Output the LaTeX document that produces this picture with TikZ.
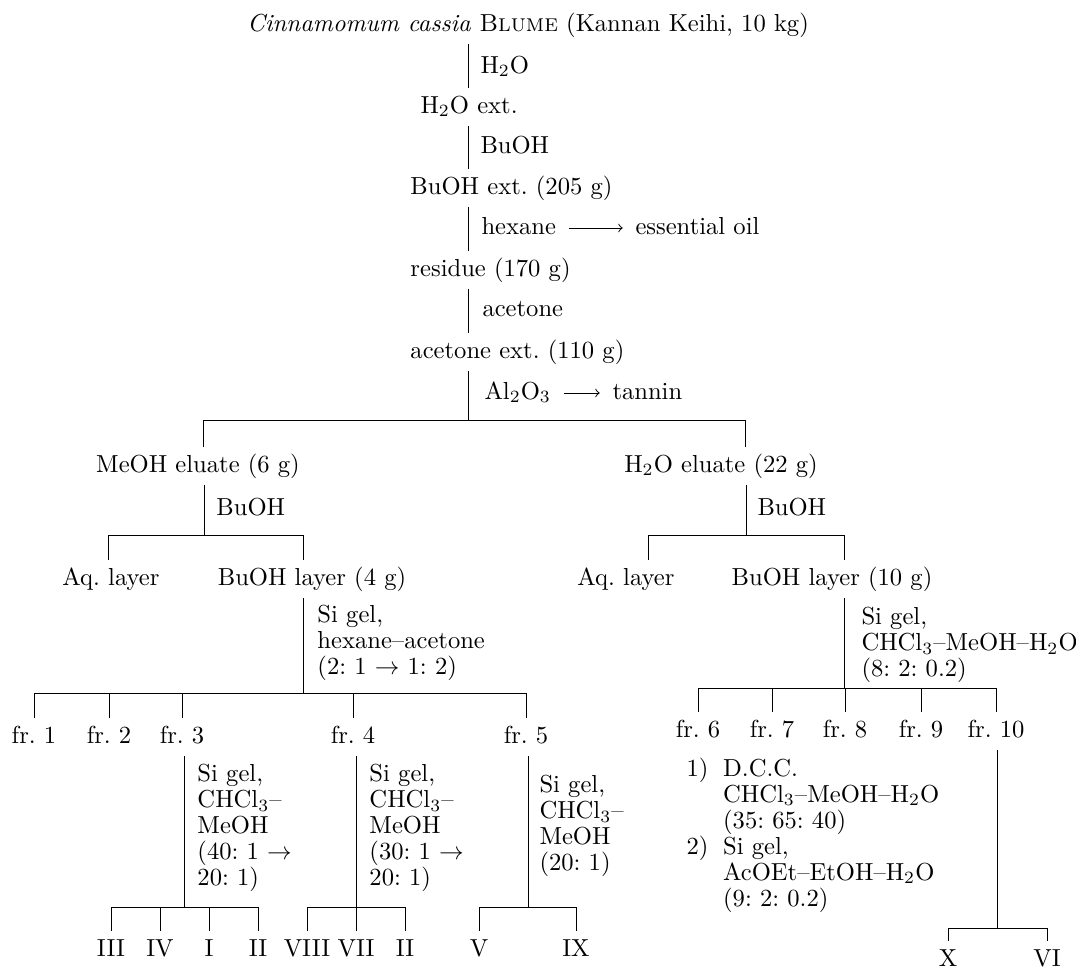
\documentclass[tikz,border=0pt]{standalone}
\usepackage{amsmath,amssymb}
\usepackage{tikz}

\tikzset{
 lbl/.style={inner xsep=0pt, inner ysep=3pt, text height=7pt, text depth=2pt},
 cond/.style={anchor=west, inner sep=0pt, align=left, font=\fontsize{10}{10.5}\selectfont},
}

\begin{document}
\begin{tikzpicture}[x=0.4065pt, y=-0.4065pt]
 \useasboundingbox (0,0) rectangle (1076,969);

 % main chain
 \node[lbl,anchor=west] (plant) at (247,25) {\textit{Cinnamomum cassia} \textsc{Blume} (Kannan Keihi, 10 kg)};
 \node[lbl,anchor=west] (wext) at (420,107) {H$_2$O ext.};
 \node[lbl,anchor=west] (bext) at (410,188) {BuOH ext.\ (205 g)};
 \node[lbl,anchor=west] (resid) at (410,270) {residue (170 g)};
 \node[lbl,anchor=west] (aext) at (410,352) {acetone ext.\ (110 g)};
 \coordinate (c0) at (468,0);
 \draw (plant.south -| c0) -- (wext.north -| c0);
 \draw (wext.south -| c0) -- (bext.north -| c0);
 \draw (bext.south -| c0) -- (resid.north -| c0);
 \draw (resid.south -| c0) -- (aext.north -| c0);
 \node[lbl,anchor=west] (rw) at (480,67) {H$_2$O};
 \node[lbl,anchor=west] (rb) at (480,147) {BuOH};
 \node[lbl,anchor=west] (rh) at (481,228) {hexane};
 \node[lbl,anchor=west] (oil) at (635,228) {essential oil};
 \draw[->] ([xshift=5pt]rh.east) -- ([xshift=-5pt]oil.west);
 \node[lbl,anchor=west] (rac) at (482,310) {acetone};
 \node[lbl,anchor=west] (ra) at (484,393) {Al$_2$O$_3$};
 \node[lbl,anchor=west] (tan) at (612,393) {tannin};
 \draw[->] ([xshift=5pt]ra.east) -- ([xshift=-5pt]tan.west);

 % alumina column
 \coordinate (j1) at (468,420);
 \coordinate (j1l) at (203,420);
 \coordinate (j1r) at (745,420);
 \draw (aext.south -| j1) -- (j1);
 \draw (j1l) -- (j1r);
 \node[lbl] (meoh) at (198,466) {MeOH eluate (6 g)};
 \node[lbl] (wel) at (721,466) {H$_2$O eluate (22 g)};
 \draw (j1l) -- (meoh.north -| j1l);
 \draw (j1r) -- (wel.north -| j1r);

 % MeOH eluate
 \coordinate (cl) at (204,0);
 \coordinate (k1) at (108,535);
 \coordinate (k2) at (303,535);
 \node[lbl,anchor=west] (rbl) at (216,509) {BuOH};
 \draw (meoh.south -| cl) -- (cl |- k1);
 \draw (k1) -- (k2);
 \node[lbl] (aql) at (111,579) {Aq.\ layer};
 \node[lbl] (bll) at (312,579) {BuOH layer (4 g)};
 \draw (k1) -- (aql.north -| k1);
 \draw (k2) -- (bll.north -| k2);
 \node[cond] (sgl) at (317,643) {Si gel,\\hexane--acetone\\(2:\ 1 $\rightarrow$ 1:\ 2)};
 \coordinate (f1) at (303,693);
 \draw (bll.south -| k2) -- (f1);
 \foreach \x/\n in {34/1,109/2,182/3,353/4,526/5} {
  \coordinate (t\n) at (\x,693);
  \node[lbl] (fr\n) at (\x,737) {fr.\ \n};
  \draw (t\n) -- (fr\n.north);
 }
 \draw (t1) -- (t5);

 % H2O eluate
 \coordinate (cr) at (746,0);
 \coordinate (k3) at (648,535);
 \coordinate (k4) at (844,535);
 \node[lbl,anchor=west] (rbr) at (757,509) {BuOH};
 \draw (wel.south -| cr) -- (cr |- k3);
 \draw (k3) -- (k4);
 \node[lbl] (aqr) at (626,579) {Aq.\ layer};
 \node[lbl] (blr) at (832,579) {BuOH layer (10 g)};
 \draw (k3) -- (aqr.north -| k3);
 \draw (k4) -- (blr.north -| k4);
 \node[cond] (sgr) at (861,645) {Si gel,\\CHCl$_3$--MeOH--H$_2$O\\(8:\ 2:\ 0.2)};
 \coordinate (f2) at (844,688);
 \draw (blr.south -| k4) -- (f2);
 \foreach \x/\n in {698/6,772/7,845/8,921/9,996/10} {
  \coordinate (t\n) at (\x,688);
  \node[lbl] (fr\n) at (\x,731) {fr.\ \n};
  \draw (t\n) -- (fr\n.north);
 }
 \draw (t6) -- (t10);

 % fr. 3
 \coordinate (g3) at (184,907);
 \draw (fr3.south -| g3) -- (g3);
 \node[cond] (c3) at (197,828) {Si gel,\\CHCl$_3$--\\MeOH\\(40:\ 1 $\rightarrow$\\20:\ 1)};
 \foreach \x/\r [count=\i] in {111/III,160/IV,209/I,258/II} {
  \coordinate (p3\i) at (\x,907);
  \node[lbl] (v3\i) at (\x,950) {\r};
  \draw (p3\i) -- (v3\i.north);
 }
 \draw (p31) -- (p34);

 % fr. 4
 \coordinate (g4) at (356,907);
 \draw (fr4.south -| g4) -- (g4);
 \node[cond] (c4) at (369,828) {Si gel,\\CHCl$_3$--\\MeOH\\(30:\ 1 $\rightarrow$\\20:\ 1)};
 \foreach \x/\r [count=\i] in {307/VIII,356/VII,405/II} {
  \coordinate (p4\i) at (\x,907);
  \node[lbl] (v4\i) at (\x,950) {\r};
  \draw (p4\i) -- (v4\i.north);
 }
 \draw (p41) -- (p43);

 % fr. 5
 \coordinate (g5) at (528,907);
 \draw (fr5.south -| g5) -- (g5);
 \node[cond] (c5) at (539,826) {Si gel,\\CHCl$_3$--\\MeOH\\(20:\ 1)};
 \foreach \x/\r [count=\i] in {479/V,576/IX} {
  \coordinate (p5\i) at (\x,907);
  \node[lbl] (v5\i) at (\x,950) {\r};
  \draw (p5\i) -- (v5\i.north);
 }
 \draw (p51) -- (p52);

 % fr. 10
 \coordinate (g10) at (997,928);
 \draw (fr10.south -| g10) -- (g10);
 \node[cond] (proc) at (686,836) {\begin{tabular}{@{}l@{\hspace{6pt}}l@{}}
  1) & D.C.C.\\
     & CHCl$_3$--MeOH--H$_2$O\\
     & (35:\ 65:\ 40)\\
  2) & Si gel,\\
     & AcOEt--EtOH--H$_2$O\\
     & (9:\ 2:\ 0.2)
  \end{tabular}};
 \foreach \x/\r [count=\i] in {948/X,1047/VI} {
  \coordinate (p10\i) at (\x,928);
  \node[lbl] (v10\i) at (\x,960) {\r};
  \draw (p10\i) -- (v10\i.north);
 }
 \draw (p101) -- (p102);
\end{tikzpicture}
\end{document}
